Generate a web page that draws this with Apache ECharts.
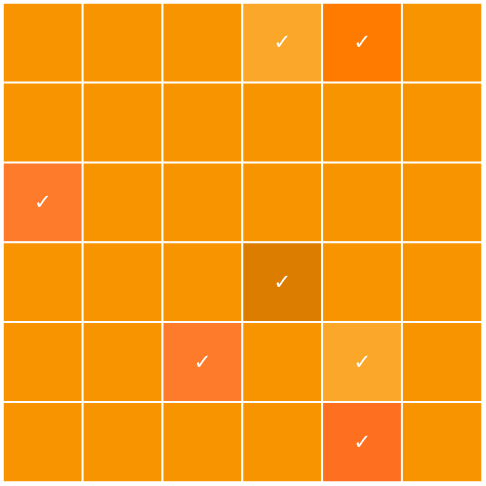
<!DOCTYPE html>
<html>
<head>
<meta charset="utf-8">
<script src="https://cdn.jsdelivr.net/npm/echarts@6/dist/echarts.min.js"></script>
<style>html,body{margin:0;padding:0;background:#fff}#c{width:486px;height:486px}</style>
</head>
<body>
<div id="c"></div>
<script>
const cols = ['A','B','C','D','E','F'];
const rows = ['1','2','3','4','5','6'];
// level of each cell, top row first; 0 = plain
const levels = [
  [0,0,0,1,2,0],
  [0,0,0,0,0,0],
  [3,0,0,0,0,0],
  [0,0,0,4,0,0],
  [0,0,3,0,1,0],
  [0,0,0,0,5,0]
];
// which cells carry a check mark
const checked = [
  [0,0,0,1,1,0],
  [0,0,0,0,0,0],
  [1,0,0,0,0,0],
  [0,0,0,1,0,0],
  [0,0,1,0,1,0],
  [0,0,0,0,1,0]
];
const palette = ['#F89400','#FBA72A','#FE7B00','#FE7B2B','#DD7D00','#FE6F1F'];

const data = [];
levels.forEach((row, r) => row.forEach((lv, c) => {
  data.push({
    value: [c, r, lv],
    itemStyle: { color: palette[lv] },
    label: { show: !!checked[r][c] }
  });
}));

const chart = echarts.init(document.getElementById('c'));
chart.setOption({
  animation: false,
  grid: { left: 3, right: 4, top: 3, bottom: 4 },
  xAxis: { type: 'category', data: cols, show: false },
  yAxis: { type: 'category', data: rows, show: false, inverse: true },
  series: [{
    type: 'heatmap',
    data: data,
    itemStyle: { borderColor: '#fff', borderWidth: 2 },
    label: {
      show: false,
      formatter: '✓',
      color: '#fff',
      fontSize: 21,
      fontWeight: 'bold',
      fontFamily: 'DejaVu Sans',
      offset: [0, 1]
    },
    emphasis: { disabled: true }
  }]
});
</script>
</body>
</html>
